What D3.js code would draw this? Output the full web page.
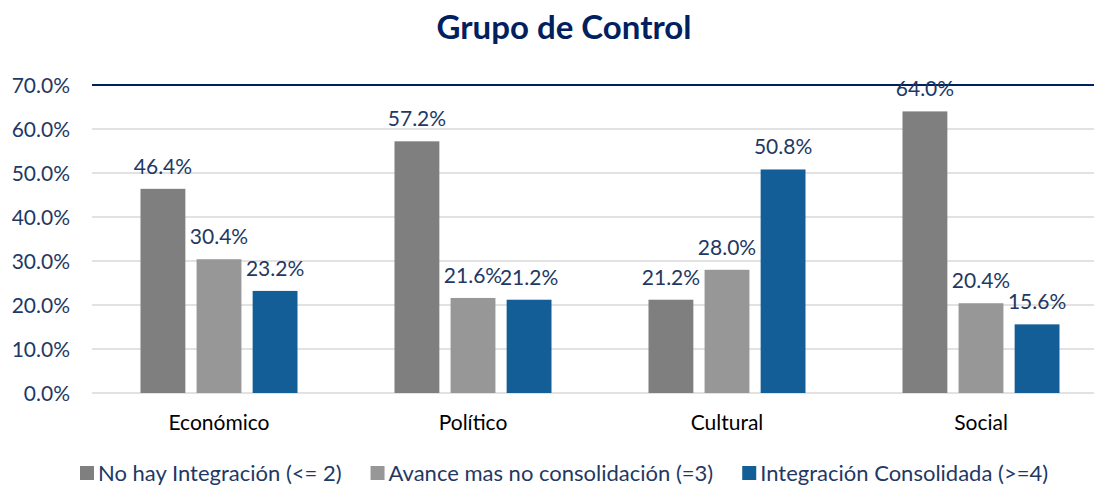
<!DOCTYPE html>
<html><head><meta charset="utf-8">
<script src="https://cdn.jsdelivr.net/npm/d3@7"></script>
<style>
body{margin:0;background:#fff;}
svg{display:block;font-family:Lato,"Open Sans",sans-serif;}
</style></head>
<body>
<svg id="chart" width="1094" height="485"></svg>
<script>
const categories = ["Económico","Político","Cultural","Social"];
const seriesNames = ["No hay Integración (<= 2)","Avance mas no consolidación (=3)","Integración Consolidada (>=4)"];
const noIntegracion = [46.4, 57.2, 21.2, 64.0];
const avance = [30.4, 21.6, 28.0, 20.4];
const consolidada = [23.2, 21.2, 50.8, 15.6];
const yTicks = [0,10,20,30,40,50,60,70];
const colors = ["#7f7f7f","#979797","#135e96"];
const navy = "#1f3864";

const series = [noIntegracion, avance, consolidada];
const svg = d3.select("#chart");

const x0 = d3.scaleBand().domain(categories).range([92,1108]).paddingInner(0).paddingOuter(0);
const x1 = d3.scaleBand().domain([0,1,2]).range([0,157]).paddingInner(0.2);
const y = d3.scaleLinear().domain([0,70]).range([393,85]);

// title
svg.append("text").attr("x",564).attr("y",39).attr("text-anchor","middle")
  .attr("font-size",33).attr("font-weight","bold").attr("fill","#002060").text("Grupo de Control");

// gridlines
svg.append("g").selectAll("line").data(yTicks).join("line")
  .attr("x1",92).attr("x2",1094)
  .attr("y1",d=>y(d)).attr("y2",d=>y(d))
  .attr("stroke",d=>d===70?"#002060":"#d9d9d9")
  .attr("stroke-width",d=>d===70?2:1.5);

// y axis labels
const yAxis = d3.axisLeft(y).tickValues(yTicks).tickFormat(d=>d.toFixed(1)+"%").tickSize(0).tickPadding(0);
const ya = svg.append("g").attr("transform","translate(70,0)").call(yAxis);
ya.select(".domain").remove();
ya.selectAll("text").attr("font-size",21).attr("fill",navy).attr("font-family","Lato,'Open Sans',sans-serif").attr("dy","0.35em");

// bars
const groups = svg.append("g").selectAll("g").data(categories).join("g")
  .attr("transform",c=>`translate(${x0(c)+x0.bandwidth()/2-78.5},0)`);
groups.each(function(c,ci){
  const g = d3.select(this);
  series.forEach((s,si)=>{
    g.append("rect").attr("x",x1(si)).attr("width",x1.bandwidth())
      .attr("y",y(s[ci])).attr("height",y(0)-y(s[ci])).attr("fill",colors[si]);
  });
  series.forEach((s,si)=>{
    g.append("text").attr("x",x1(si)+x1.bandwidth()/2).attr("y",y(s[ci])-15)
      .attr("text-anchor","middle").attr("font-size",21).attr("fill",navy)
      .text(s[ci].toFixed(1)+"%");
  });
});

// x axis labels
const xAxis = d3.axisBottom(x0).tickSize(0).tickPadding(0);
const xa = svg.append("g").attr("transform","translate(0,430)").call(xAxis);
xa.select(".domain").remove();
xa.selectAll("text").attr("font-size",21).attr("fill","#000").attr("font-family","Lato,'Open Sans',sans-serif").attr("dy","0");

// legend
const leg = svg.append("g");
let lx = 80;
seriesNames.forEach((n,i)=>{
  leg.append("rect").attr("x",lx).attr("y",466).attr("width",14).attr("height",14).attr("fill",colors[i]);
  const t = leg.append("text").attr("x",lx+18).attr("y",481).attr("font-size",22).attr("fill",navy).text(n);
  lx += 18 + t.node().getComputedTextLength() + 29;
});
</script>
</body></html>
